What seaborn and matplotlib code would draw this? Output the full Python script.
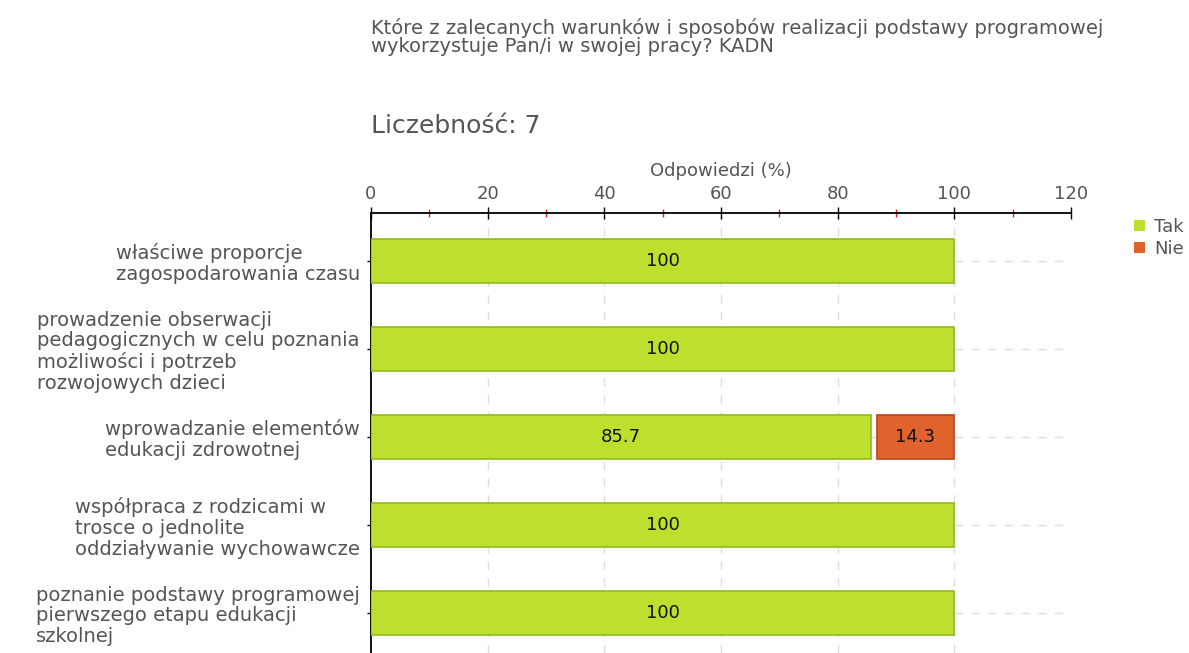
import numpy as np
import pandas as pd
import matplotlib
matplotlib.use("Agg")
import matplotlib.pyplot as plt
import seaborn as sns
from matplotlib.patches import Patch
from matplotlib.ticker import MultipleLocator

# dane
kategorie = [
    "właściwe proporcje\nzagospodarowania czasu",
    "prowadzenie obserwacji\npedagogicznych w celu poznania\nmożliwości i potrzeb\nrozwojowych dzieci",
    "wprowadzanie elementów\nedukacji zdrowotnej",
    "współpraca z rodzicami w\ntrosce o jednolite\noddziaływanie wychowawcze",
    "poznanie podstawy programowej\npierwszego etapu edukacji\nszkolnej",
]
tak = [100, 100, 85.7, 100, 100]
nie = [0, 0, 14.3, 0, 0]
tytul = ("Które z zalecanych warunków i sposobów realizacji podstawy programowej\n"
         "wykorzystuje Pan/i w swojej pracy? KADN")
liczebnosc = "Liczebność: 7"

kolor_tak, brzeg_tak = "#bde02e", "#93b81a"
kolor_nie, brzeg_nie = "#e0632e", "#b8461a"
szary = "#555555"
przerwa = 1.0  # odstęp między segmentami

sns.set_style("white")
plt.rcParams["font.family"] = ["DejaVu Sans"]

df = pd.DataFrame({"kat": kategorie, "Tak": tak, "Nie": nie})

fig = plt.figure(figsize=(11.89, 6.53), dpi=100)
ax = fig.add_axes([371 / 1189, 0, 700 / 1189, 440 / 653])

sns.barplot(data=df, y="kat", x="Tak", orient="h", color=kolor_tak,
            edgecolor=brzeg_tak, linewidth=1.2, width=0.51, saturation=1,
            ax=ax, zorder=3)
maska = df["Nie"] > 0
ax.barh(np.arange(len(df))[maska], df["Nie"][maska] - przerwa,
        left=df["Tak"][maska] + przerwa,
        height=0.51, color=kolor_nie, edgecolor=brzeg_nie, linewidth=1.2, zorder=3)

# etykiety wartości
for i, (t, n) in enumerate(zip(tak, nie)):
    ax.text(t / 2, i, f"{t:g}", ha="center", va="center", fontsize=13,
            color="#111111", zorder=4)
    if n > 0:
        ax.text(t + przerwa / 2 + n / 2, i, f"{n:g}", ha="center", va="center",
                fontsize=13, color="#111111", zorder=4)

ax.set_xlim(0, 120)
ax.set_ylim(4.455, -0.545)
ax.xaxis.set_major_locator(MultipleLocator(20))
ax.xaxis.set_minor_locator(MultipleLocator(10))
ax.xaxis.tick_top()
ax.xaxis.set_label_position("top")
ax.set_xlabel("Odpowiedzi (%)", fontsize=13, color=szary, labelpad=6)
ax.set_ylabel("")

ax.tick_params(axis="x", which="major", direction="inout", length=9, width=1,
               color="black", labelsize=13, labelcolor=szary, pad=3)
ax.tick_params(axis="x", which="minor", direction="inout", length=6, width=1,
               color="#e8231c")
ax.tick_params(axis="y", direction="inout", length=6, width=1, color="black",
               labelsize=14, labelcolor=szary, pad=5, left=True)
for lab in ax.get_yticklabels():
    lab.set_multialignment("left")
    lab.set_linespacing(1.12)

for s in ["right", "bottom"]:
    ax.spines[s].set_visible(False)
ax.spines["top"].set_color("black")
ax.spines["left"].set_color("black")
ax.spines["top"].set_linewidth(1.3)
ax.spines["left"].set_linewidth(1.3)

ax.grid(True, axis="both", which="major", color="#dddddd", linestyle=(0, (6, 6)),
        linewidth=1, zorder=0)
ax.set_axisbelow(True)
fig.canvas.draw()
for tick in ax.xaxis.get_major_ticks():
    if tick.get_loc() >= 119.9 or tick.get_loc() <= 0.1:
        tick.gridline.set_visible(False)

fig.text(371 / 1189, 1 - 37 / 653, tytul, fontsize=14, color=szary,
         ha="left", va="center", linespacing=0.95)
fig.text(371 / 1189, 1 - 126 / 653, liczebnosc, fontsize=18, color=szary,
         ha="left", va="center")

uchwyty = [Patch(facecolor=kolor_tak, edgecolor="none", label="Tak"),
           Patch(facecolor=kolor_nie, edgecolor="none", label="Nie")]
fig.legend(handles=uchwyty, loc="upper left", bbox_to_anchor=(1125 / 1189, 1 - 209 / 653),
           frameon=False, fontsize=13, handlelength=0.6, handleheight=0.6,
           handletextpad=0.5, labelspacing=0.2, labelcolor=szary, borderpad=0)

fig.savefig("out.png", dpi=100)
